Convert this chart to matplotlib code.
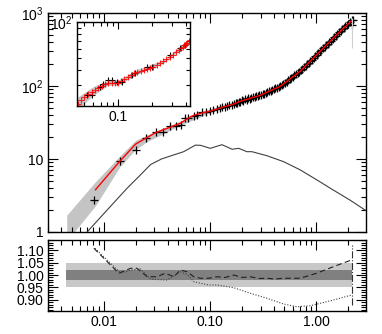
import numpy as np
import matplotlib
matplotlib.use('Agg')
import matplotlib.pyplot as plt
from matplotlib.ticker import FuncFormatter, FixedLocator, MultipleLocator, NullFormatter

plt.rcParams['font.family'] = ['Liberation Sans', 'DejaVu Sans']
plt.rcParams['mathtext.default'] = 'regular'
plt.rcParams['font.size'] = 10

# measured points (black crosses)
k_meas = [0.0082, 0.0142, 0.020, 0.0253, 0.0310, 0.0362, 0.0426, 0.048, 0.0534, 0.0589,
          0.0617, 0.0706, 0.0760, 0.0845, 0.0930, 0.101, 0.108, 0.117, 0.124, 0.131,
          0.140, 0.146, 0.152, 0.162, 0.168, 0.175, 0.181, 0.187,
          0.193, 0.200, 0.207, 0.214, 0.222, 0.230, 0.238, 0.246, 0.255, 0.264,
          0.273, 0.283, 0.293, 0.303, 0.314, 0.325, 0.336, 0.348, 0.360, 0.373,
          0.386, 0.400, 0.414, 0.429, 0.444, 0.459, 0.475, 0.492, 0.509, 0.527,
          0.545, 0.564, 0.584, 0.605, 0.626, 0.648, 0.671, 0.694, 0.718, 0.743,
          0.769, 0.796, 0.824, 0.853, 0.883, 0.914, 0.946, 0.979, 1.013, 1.049,
          1.085, 1.123, 1.162, 1.203, 1.245, 1.289, 1.334, 1.381, 1.429, 1.479,
          1.531, 1.585, 1.640, 1.698, 1.757, 1.819, 1.882, 1.948, 2.016, 2.087,
          2.160, 2.190, 2.210]
p_meas = [2.74, 9.5, 13.2, 19.2, 23.4, 23.2, 28.3, 28.3, 29.5, 36.0,
          36.0, 38.5, 40.0, 44.5, 44.0, 45.0, 47.0, 49.0, 50.0, 52.0,
          52.0, 54.0, 54.5, 55.0, 56.5, 58.0, 59.0, 61.0,
          61.0, 63.5, 63.0, 65.5, 65.0, 67.5, 67.0, 69.0, 70.5, 70.0,
          72.5, 72.0, 74.5, 75.0, 78.0, 78.0, 81.5, 82.0, 85.0, 86.0,
          89.0, 90.0, 93.0, 94.0, 97.5, 98.5, 103.5, 106.0, 111.5, 114.5,
          120.5, 123.5, 130.0, 133.0, 140.0, 144.0, 151.0, 155.0, 163.5, 169.5,
          180.5, 187.5, 199.5, 207.5, 221.0, 229.5, 244.0, 254.0, 270.0, 281.0,
          299.0, 310.0, 330.0, 343.0, 365.0, 379.0, 403.0, 419.0, 445.0, 463.0,
          492.0, 511.0, 541.0, 562.0, 595.0, 617.0, 654.0, 678.0, 718.0, 745.0,
          790.0, 680.0, 815.0]

# model (red line)
k_model = [0.0084, 0.0142, 0.020, 0.0253, 0.031, 0.036, 0.043, 0.053, 0.062, 0.070,
           0.085, 0.100, 0.117, 0.140, 0.162, 0.193, 0.298, 0.459, 0.708, 1.09, 1.565, 2.21]
p_model = [3.8, 9.3, 16.0, 19.5, 23.0, 25.0, 27.5, 31.0, 36.0, 39.5,
           43.0, 45.0, 48.5, 52.5, 55.5, 61.7, 74.6, 99.0, 159.0, 299.0, 505.0, 810.0]

# error band of the model
k_band = [0.0045, 0.0084, 0.0142, 0.020, 0.026, 0.035, 0.05, 0.1, 0.193, 0.298,
          0.459, 0.708, 1.09, 1.565, 2.21]
p_band_hi = [1.7, 4.9, 11.0, 18.0, 21.5, 26.0, 32.0, 48.0, 65.0, 78.0,
             103.0, 165.0, 310.0, 525.0, 845.0]
p_band_lo = [0.75, 2.3, 7.8, 13.5, 17.5, 21.5, 28.0, 43.0, 59.0, 71.5,
             95.0, 153.0, 288.0, 485.0, 775.0]

# linear spectrum (thin line)
k_lin = [0.0070, 0.0108, 0.0166, 0.0216, 0.0277, 0.035, 0.0426, 0.0567, 0.0731, 0.0816,
         0.101, 0.130, 0.162, 0.187, 0.223, 0.249, 0.344, 0.494, 0.708, 1.01, 1.45, 2.08, 2.95]
p_lin = [1.0, 2.0, 3.96, 5.8, 8.4, 10.0, 11.0, 12.6, 15.5, 15.4,
         14.0, 15.7, 13.6, 14.0, 12.6, 12.6, 11.1, 9.2, 7.1, 5.2, 3.76, 2.74, 1.96]

# inset: red crosses, black crosses, band
k_in_red = [0.044, 0.047, 0.050, 0.054, 0.058, 0.062, 0.066, 0.071, 0.076, 0.081,
            0.087, 0.093, 0.099, 0.106, 0.113, 0.121, 0.129, 0.138, 0.147, 0.157,
            0.168, 0.179, 0.191, 0.204, 0.218, 0.233, 0.249, 0.266, 0.284, 0.303,
            0.324, 0.346, 0.360, 0.370, 0.383, 0.395, 0.408, 0.420, 0.430]
p_in_red = [20.8, 22.2, 23.6, 25.2, 26.3, 27.2, 28.2, 29.4, 30.3, 31.0,
            31.3, 31.0, 31.3, 32.2, 33.3, 34.5, 36.0, 37.3, 38.4, 39.2,
            40.0, 40.9, 41.6, 42.5, 43.6, 45.3, 47.3, 49.4, 51.5, 53.5,
            56.0, 58.8, 60.5, 62.0, 63.8, 65.5, 67.3, 69.0, 70.5]
k_in_blk = [0.0527, 0.058, 0.0693, 0.0737, 0.0816, 0.088, 0.097, 0.107, 0.132, 0.141,
            0.179, 0.198, 0.287, 0.352, 0.389]
p_in_blk = [24.6, 24.6, 28.5, 30.2, 32.7, 32.7, 31.6, 31.6, 36.5, 37.9,
            42.2, 42.2, 52.8, 60.2, 64.0]
k_in_band = [0.043, 0.06, 0.08, 0.1, 0.15, 0.25, 0.43]
p_in_hi = [23.5, 29.0, 32.5, 33.0, 40.5, 48.5, 73.0]
p_in_lo = [18.5, 24.5, 29.5, 30.0, 37.0, 45.5, 68.0]

# ratio panel
k_dash = [0.0081, 0.0139, 0.018, 0.0206, 0.0258, 0.0318, 0.038, 0.0459, 0.0528, 0.0612,
          0.0706, 0.0815, 0.0974, 0.117, 0.14, 0.168, 0.20, 0.24, 0.29, 0.344,
          0.41, 0.494, 0.708, 1.01, 1.45, 1.94, 2.16]
r_dash = [1.107, 1.007, 1.027, 1.027, 0.993, 0.993, 1.007, 0.993, 1.02, 1.013,
          0.993, 0.987, 0.987, 0.993, 0.99, 1.0, 0.99, 0.993, 0.986, 0.987,
          0.984, 0.987, 0.987, 1.007, 1.033, 1.053, 1.06]
k_dot = [0.0083, 0.0145, 0.018, 0.022, 0.0277, 0.0397, 0.0528, 0.062, 0.0706, 0.0815,
         0.0974, 0.117, 0.168, 0.24, 0.344, 0.494, 0.66, 0.878, 1.26, 1.68, 2.16]
r_dot = [1.107, 1.007, 1.02, 1.025, 0.983, 0.98, 1.013, 1.0, 0.973, 0.967,
         0.96, 0.96, 0.949, 0.927, 0.907, 0.884, 0.873, 0.877, 0.893, 0.907, 0.92]
k_max = 2.17
band_k = [0.0044, 2.16]
band_outer = [0.95, 1.047]
band_inner = [0.98, 1.02]

fig = plt.figure(figsize=(3.82, 3.34), dpi=100)
ax1 = fig.add_axes([0.1257, 0.3054, 0.8325, 0.6556])
ax2 = fig.add_axes([0.1257, 0.0689, 0.8325, 0.2125])
axi = fig.add_axes([0.2016, 0.683, 0.2958, 0.251])

ax1.fill_between(k_band, p_band_lo, p_band_hi, color='#c4c4c4', lw=0)
ax1.plot(k_lin, p_lin, color='#404040', lw=0.8)
ax1.plot(k_meas, p_meas, '+', color='black', ms=5.5, mew=0.9)
ax1.plot(k_model, p_model, color='red', lw=1.0)
ax1.vlines(k_max, 330, 850, color='#d0d0d0', lw=0.8)
ax1.set_xscale('log')
ax1.set_yscale('log')
ax1.set_xlim(0.003, 2.95)
ax1.set_ylim(1, 1000)
ax1.yaxis.set_major_formatter(FuncFormatter(
    lambda v, p: {1: '1', 10: '10', 100: '$10^2$', 1000: '$10^3$'}.get(int(round(v)), '')))
ax1.xaxis.set_major_formatter(NullFormatter())

axi.fill_between(k_in_band, p_in_lo, p_in_hi, color='#c4c4c4', lw=0)
axi.plot(k_in_blk, p_in_blk, '+', color='black', ms=5, mew=0.8)
axi.plot(k_in_red, p_in_red, '+', color='red', ms=5, mew=0.8, alpha=0.85)
axi.set_xscale('log')
axi.set_yscale('log')
axi.set_xlim(0.043, 0.43)
axi.set_ylim(20, 100)
axi.xaxis.set_major_locator(FixedLocator([0.1]))
axi.xaxis.set_major_formatter(FuncFormatter(lambda v, p: '0.1'))
axi.yaxis.set_major_locator(FixedLocator([100]))
axi.yaxis.set_major_formatter(FuncFormatter(lambda v, p: '$10^2$'))

ax2.fill_between(band_k, band_outer[0], band_outer[1], color='#c8c8c8', lw=0)
ax2.fill_between(band_k, band_inner[0], band_inner[1], color='#808080', lw=0)
ax2.plot(k_dash, r_dash, ls=(0, (5, 3)), color='#202020', lw=0.8)
ax2.plot(k_dot, r_dot, ls=(0, (1, 1.5)), color='#404040', lw=0.8)
ax2.vlines(k_max, 0.88, 1.12, color='#303030', lw=0.8, linestyles='dashdot')
ax2.set_xscale('log')
ax2.set_xlim(0.003, 2.95)
ax2.set_ylim(0.856, 1.14)
ax2.yaxis.set_major_locator(MultipleLocator(0.05))
ax2.yaxis.set_minor_locator(MultipleLocator(0.01))
ax2.yaxis.set_major_formatter(FuncFormatter(lambda v, p: '%.2f' % v))
ax2.xaxis.set_major_formatter(FuncFormatter(lambda v, p: '%.2f' % v))

for ax in (ax1, ax2, axi):
    ax.xaxis.set_minor_formatter(NullFormatter())
    ax.yaxis.set_minor_formatter(NullFormatter())
    ax.tick_params(which='both', direction='in', top=True, right=True, width=0.8)
    ax.tick_params(which='major', length=7, pad=3)
    ax.tick_params(which='minor', length=3.5)
    for s in ax.spines.values():
        s.set_linewidth(1.0)
axi.tick_params(which='major', length=5)
axi.tick_params(which='minor', length=3)

fig.savefig('out.png', dpi=100)
